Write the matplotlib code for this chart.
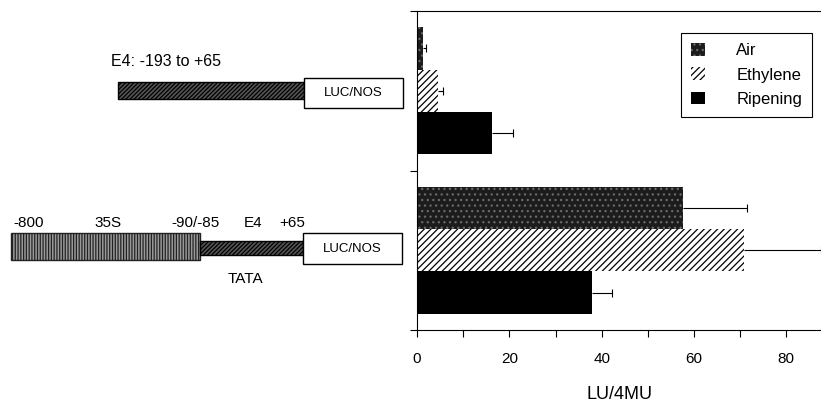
import matplotlib
matplotlib.use("Agg")
import matplotlib.pyplot as plt
from matplotlib.patches import Rectangle

plt.rcParams['font.family'] = ['Liberation Sans', 'DejaVu Sans']
plt.rcParams['hatch.linewidth'] = 0.9

# measured activity (LU/4MU)
constructs = ["E4: -193 to +65", "35S(-800/-90) + E4(-85/+65)"]
treatments = ["Air", "Ethylene", "Ripening"]
air = [1.3, 57.6]
ethylene = [4.6, 70.8]
ripening = [16.2, 37.9]
air_err = [0.6, 13.9]
ethylene_err = [1.0, 16.7]
ripening_err = [4.6, 4.3]

xticks = [0, 20, 40, 60, 80]

# schematic pieces (left panel, drawn in panel units)
top_e4 = (118, 304)
bottom_35s = (11, 200)
bottom_e4 = (200, 303)

fig = plt.figure(figsize=(8.21, 4.04), dpi=100)

# ---------- bar chart ----------
ax = fig.add_axes([417 / 821, 74 / 404, 404 / 821, 319 / 404])
h = 0.266
styles = {
    "Air": dict(facecolor="#1c1c1c", edgecolor="#6a6a6a", hatch="...", linewidth=0),
    "Ethylene": dict(facecolor="white", edgecolor="black", hatch="/////", linewidth=0),
    "Ripening": dict(facecolor="black", edgecolor="black", linewidth=0),
}
series = [air, ethylene, ripening]
errs = [air_err, ethylene_err, ripening_err]
for k, name in enumerate(treatments):
    ys = [i + 0.5 + (k - 1) * h for i in range(len(constructs))]
    ax.barh(ys, series[k], height=h, label=name, **styles[name])
    # one-sided error bars with a cap only at the outer end
    ends = [v + e for v, e in zip(series[k], errs[k])]
    ax.hlines(ys, series[k], ends, color="black", linewidth=0.8)
    ax.plot(ends, ys, linestyle="none", marker="|", markersize=6,
            markeredgewidth=0.8, color="black")

ax.set_ylim(2, 0)
ax.set_xlim(0, 87.5)
ax.set_yticks([0, 1, 2])
ax.set_yticklabels([])
ax.set_xticks(xticks)
ax.set_xticks(range(10, 90, 20), minor=True)
ax.tick_params(axis="x", which="both", direction="out", length=5, width=0.8,
               labelsize=11, pad=11)
ax.tick_params(axis="y", direction="out", length=5, width=0.8)
ax.spines["right"].set_visible(False)
for s in ["left", "bottom", "top"]:
    ax.spines[s].set_linewidth(0.8)
ax.set_xlabel("LU/4MU", fontsize=13, labelpad=14)

leg = ax.legend(loc="upper right", bbox_to_anchor=(0.978, 0.931), borderaxespad=0,
                fancybox=False, edgecolor="black", framealpha=1, fontsize=12,
                handlelength=0.8, handleheight=0.8, handletextpad=1.9,
                labelspacing=0.55, borderpad=0.6)
leg.get_frame().set_linewidth(0.8)

# ---------- construct schematic ----------
dx = fig.add_axes([0, 0, 410 / 821, 1])
dx.set_xlim(0, 410)
dx.set_ylim(404, 0)
dx.axis("off")

# top construct
dx.add_patch(Rectangle((top_e4[0], 82), top_e4[1] - top_e4[0], 17,
                       facecolor="#555555", edgecolor="black", hatch="////////", linewidth=1))
dx.add_patch(Rectangle((304, 78), 99, 30, facecolor="white", edgecolor="black", linewidth=1))
dx.text(353, 93, "LUC/NOS", ha="center", va="center", fontsize=9.5)
dx.text(111, 61, "E4: -193 to +65", ha="left", va="center", fontsize=11.5)

# bottom construct
dx.add_patch(Rectangle((bottom_35s[0], 233), bottom_35s[1] - bottom_35s[0], 27,
                       facecolor="#9a9a9a", edgecolor="#222222", hatch="||||||", linewidth=1))
dx.add_patch(Rectangle((bottom_e4[0], 241), bottom_e4[1] - bottom_e4[0], 14,
                       facecolor="#555555", edgecolor="black", hatch="////////", linewidth=1))
dx.add_patch(Rectangle((303, 233), 99, 31, facecolor="white", edgecolor="black", linewidth=1))
dx.text(352, 249, "LUC/NOS", ha="center", va="center", fontsize=9.5)
for label, xc in [("-800", 29), ("35S", 108), ("-90/-85", 195), ("E4", 253), ("+65", 292)]:
    dx.text(xc, 223, label, ha="center", va="center", fontsize=11)
dx.text(245, 279, "TATA", ha="center", va="center", fontsize=11)

fig.savefig("out.png", dpi=100)
